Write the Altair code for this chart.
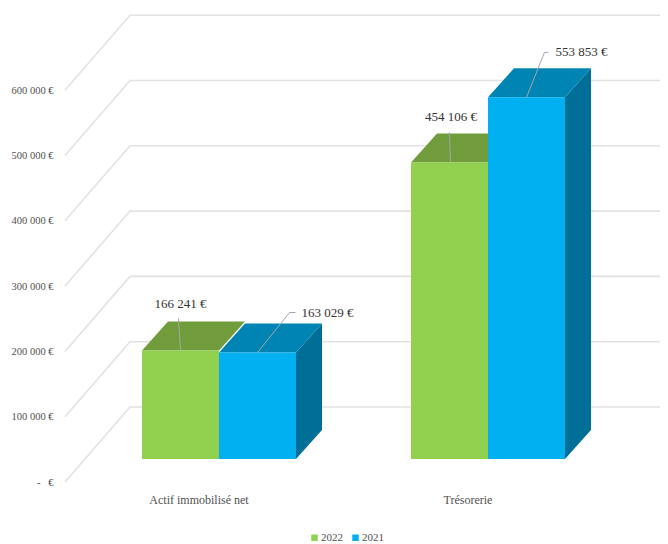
import altair as alt
import pandas as pd

# ---- chart values ----
categories = ["Actif immobilisé net", "Trésorerie"]
series_names = ["2022", "2021"]
values_2022 = [166241, 454106]
values_2021 = [163029, 553853]
value_labels_2022 = ["166 241 €", "454 106 €"]
value_labels_2021 = ["163 029 €", "553 853 €"]
wall_ticks = [0, 100000, 200000, 300000, 400000, 500000, 600000]

# ---- oblique projection (pixels of the plot area) ----
W, H = 652, 536
PX = 0.000653            # pixels per euro
BASE_Y, WALL_Y = 451, 474
WALL_X = (57, 122, W)
WALL_RISE = 75 / PX
GROUP_LEFT = [134, 403]
BAR_W, DX = 77, 26
DY = 29 / PX
GREEN, GREEN_TOP = "#92D050", "#709C3C"
BLUE, BLUE_TOP, BLUE_SIDE = "#00B0F0", "#0084B4", "#006F97"
SERIF = "Liberation Serif"

x_scale = alt.Scale(domain=[0, W], nice=False, zero=False)
bar_y = alt.Scale(domain=[-(H - BASE_Y) / PX, BASE_Y / PX], nice=False, zero=False)
wall_y = alt.Scale(domain=[-(H - WALL_Y) / PX, WALL_Y / PX], nice=False, zero=False)

# ---- walls ----
wall_rows = []
for t in wall_ticks:
    wall_rows += [
        {"tick": t, "x": WALL_X[0], "y": t},
        {"tick": t, "x": WALL_X[1], "y": t + WALL_RISE},
        {"tick": t, "x": WALL_X[2], "y": t + WALL_RISE},
    ]
walls = alt.Chart(pd.DataFrame(wall_rows)).mark_line(
    color="#E2E2E2", strokeWidth=1.6, clip=False
).encode(
    x=alt.X("x:Q", scale=x_scale, axis=None),
    y=alt.Y(
        "y:Q", scale=wall_y, title=None,
        axis=alt.Axis(
            values=wall_ticks, offset=-45, domain=False, ticks=False, grid=False,
            labelPadding=0, labelFont=SERIF, labelFontSize=10.5, labelColor="#505050",
            labelExpr="datum.value == 0 ? '-\u00a0\u00a0\u00a0€' : replace(format(datum.value, ','), ',', ' ') + ' €'",
        ),
    ),
    detail="tick:N",
)

# ---- bars ----
bars = []
for g, left in enumerate(GROUP_LEFT):
    bars.append(dict(cat=categories[g], year=series_names[0], v=values_2022[g], a=left,
                     b=left + BAR_W, top=GREEN_TOP, side=GREEN, label=value_labels_2022[g]))
    bars.append(dict(cat=categories[g], year=series_names[1], v=values_2021[g], a=left + BAR_W,
                     b=left + 2 * BAR_W, top=BLUE_TOP, side=BLUE_SIDE, label=value_labels_2021[g]))

# drawing order per group: blue side, blue top, green top; fronts afterwards
face_rows = []
for i in (0, 2):
    green, blue = bars[i], bars[i + 1]
    for name, bar, pts in [
        ("side", blue, [(blue["b"], 0, blue["v"]), (blue["b"] + DX, DY, blue["v"] + DY)]),
        ("top", blue, [(blue["a"], blue["v"], blue["v"]),
                       (blue["a"] + DX, blue["v"], blue["v"] + DY),
                       (blue["b"], blue["v"], blue["v"] + DY),
                       (blue["b"] + DX, blue["v"] + DY, blue["v"] + DY)]),
        ("top", green, [(green["a"], green["v"], green["v"]),
                        (green["a"] + DX, green["v"], green["v"] + DY),
                        (green["b"], green["v"], green["v"] + DY),
                        (green["b"] + DX, green["v"] + DY, green["v"] + DY)]),
    ]:
        for px_, lo, hi in pts:
            face_rows.append({
                "face": f"{i}-{bar['year']}-{name}", "x": px_, "lo": lo, "hi": hi,
                "fill": bar["side"] if name == "side" else bar["top"],
            })

faces = alt.Chart(pd.DataFrame(face_rows)).mark_area(interpolate="linear").encode(
    x=alt.X("x:Q", scale=x_scale, axis=None),
    y=alt.Y("lo:Q", scale=bar_y, axis=None),
    y2="hi:Q",
    fill=alt.Fill("fill:N", scale=None),
    detail=alt.Detail("face:N"),
)

front_df = pd.DataFrame([{**b, "zero": 0} for b in bars])
fronts = alt.Chart(front_df).mark_rect().encode(
    x=alt.X("a:Q", scale=x_scale, axis=None),
    x2="b:Q",
    y=alt.Y("zero:Q", scale=bar_y, axis=None),
    y2="v:Q",
    color=alt.Color(
        "year:N",
        scale=alt.Scale(domain=series_names, range=[GREEN, BLUE]),
        sort=series_names,
        legend=alt.Legend(
            orient="none", legendX=301, legendY=524, direction="horizontal", title=None,
            symbolType="square", symbolSize=42, symbolStrokeWidth=0,
            labelFont=SERIF, labelFontSize=11, labelColor="#505050",
            labelOffset=1, columnPadding=7, padding=0,
        ),
    ),
)

# ---- leader lines and value labels (offsets from the middle of each front top edge) ----
leader_offsets = [
    [(0, 0), (-2, 32)],
    [(0, 0), (32, 40), (38, 40)],
    [(1, 0), (0, 30)],
    [(0, 0), (18, 45), (22, 45)],
]
label_offsets = [(0, 46), (44, 40), (1.5, 45), (29, 45)]
label_aligns = ["center", "left", "center", "left"]

leader_rows, label_rows = [], []
for i, b in enumerate(bars):
    mid = (b["a"] + b["b"]) / 2
    for n, (ox, oy) in enumerate(leader_offsets[i]):
        leader_rows.append({"bar": i, "n": n, "x": mid + ox, "y": b["v"] + oy / PX})
    ox, oy = label_offsets[i]
    label_rows.append({"x": mid + ox, "y": b["v"] + oy / PX, "label": b["label"], "align": label_aligns[i]})

leaders = alt.Chart(pd.DataFrame(leader_rows)).mark_line(color="#A6A6A6", strokeWidth=1).encode(
    x=alt.X("x:Q", scale=x_scale, axis=None),
    y=alt.Y("y:Q", scale=bar_y, axis=None),
    detail="bar:N",
    order="n:Q",
)

label_df = pd.DataFrame(label_rows)
def label_layer(align):
    return alt.Chart(label_df[label_df["align"] == align]).mark_text(
        font=SERIF, fontSize=13, color="#333333", align=align, baseline="middle"
    ).encode(
        x=alt.X("x:Q", scale=x_scale, axis=None),
        y=alt.Y("y:Q", scale=bar_y, axis=None),
        text="label:N",
    )

# ---- category labels ----
cat_df = pd.DataFrame({
    "x": [left + BAR_W - 20 for left in GROUP_LEFT],
    "y": [-41 / PX] * len(categories),
    "label": categories,
})
cat_labels = alt.Chart(cat_df).mark_text(
    font=SERIF, fontSize=12, color="#505050", align="center", baseline="middle"
).encode(
    x=alt.X("x:Q", scale=x_scale, axis=None),
    y=alt.Y("y:Q", scale=bar_y, axis=None),
    text="label:N",
)

front_layers = alt.layer(faces, fronts, leaders, label_layer("center"), label_layer("left"), cat_labels)

chart = alt.layer(walls, front_layers).resolve_scale(y="independent").properties(
    width=W, height=H, padding=0,
    autosize=alt.AutoSizeParams(type="none"),
    background="white",
).configure_view(stroke=None)

chart.save("out.html", embed_options={"renderer": "svg", "actions": False})
